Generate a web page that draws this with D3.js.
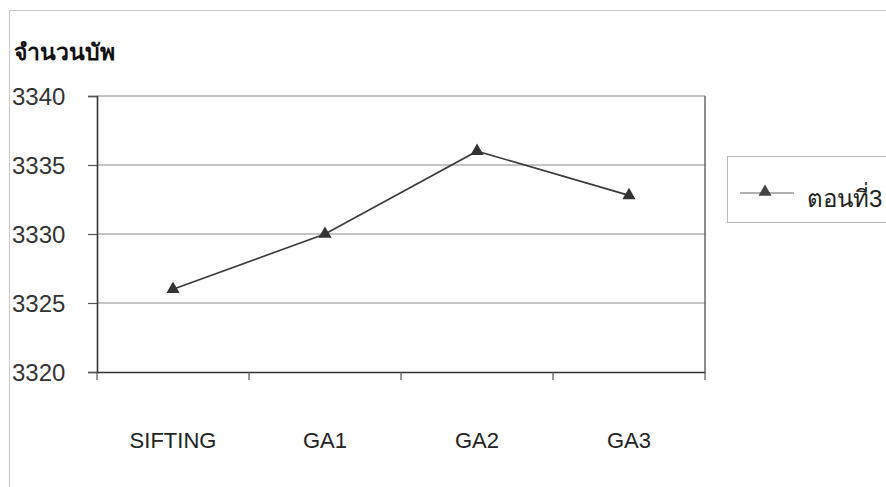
<!DOCTYPE html>
<html>
<head>
<meta charset="utf-8">
<script src="https://cdn.jsdelivr.net/npm/d3@7/dist/d3.min.js"></script>
<style>
  html, body { margin: 0; padding: 0; background: #fff; }
  svg { display: block; }
  text { font-family: "Liberation Sans", Arial, sans-serif; fill: #222; }
</style>
</head>
<body>
<svg id="chart" width="886" height="487"></svg>
<script>
const categories = ["SIFTING", "GA1", "GA2", "GA3"];
const values = [3326.0, 3330.0, 3336.0, 3332.8];
const yTicks = [3320, 3325, 3330, 3335, 3340];
const seriesName = "ตอนที่3";
const yTitle = "จำนวนบัพ";

const svg = d3.select("#chart");
const plot = { left: 97, right: 705, top: 96, bottom: 372 };

const x = d3.scaleBand().domain(categories).range([plot.left, plot.right]).padding(0);
const y = d3.scaleLinear().domain([3320, 3340]).range([plot.bottom, plot.top]);

// outer frame
svg.append("line").attr("x1", 10).attr("x2", 886).attr("y1", 10.5).attr("y2", 10.5)
  .attr("stroke", "#c8c8c8").attr("stroke-width", 1);
svg.append("line").attr("x1", 9.5).attr("x2", 9.5).attr("y1", 10).attr("y2", 487)
  .attr("stroke", "#c8c8c8").attr("stroke-width", 1);

// gridlines
svg.append("g").selectAll("line").data(yTicks.filter(d => d !== 3320)).join("line")
  .attr("x1", plot.left).attr("x2", plot.right)
  .attr("y1", d => y(d)).attr("y2", d => y(d))
  .attr("stroke", "#8a8a8a").attr("stroke-width", 1.2);

// right border
svg.append("line").attr("x1", plot.right).attr("x2", plot.right)
  .attr("y1", plot.top).attr("y2", plot.bottom)
  .attr("stroke", "#666").attr("stroke-width", 1.5);

// y axis
const yAxis = d3.axisLeft(y).tickValues(yTicks).tickSize(9).tickPadding(6).tickFormat(d3.format("d"));
const gy = svg.append("g").attr("transform", `translate(${plot.left},0)`).call(yAxis);
gy.select(".domain").attr("stroke", "#333").attr("stroke-width", 1.6);
gy.selectAll(".tick line").attr("stroke", "#555").attr("stroke-width", 1.2);
gy.selectAll(".tick text").attr("text-anchor", "start").attr("x", 12 - plot.left)
  .attr("dy", "0.36em")
  .style("font-size", "24px").style("fill", "#333");

// x axis
const xAxis = d3.axisBottom(x).tickSize(0).tickPadding(60);
const gx = svg.append("g").attr("transform", `translate(0,${plot.bottom})`).call(xAxis);
gx.select(".domain").attr("stroke", "#333").attr("stroke-width", 1.6);
gx.selectAll(".tick text").style("font-size", "22px").style("fill", "#222");
// x boundary ticks
const bounds = categories.map(c => x(c)).concat([x.range()[1]]);
gx.append("g").selectAll("line").data(bounds).join("line")
  .attr("x1", d => d).attr("x2", d => d).attr("y1", 0).attr("y2", 8)
  .attr("stroke", "#555").attr("stroke-width", 1.2);

// line series
const cx = d => x(d) + x.bandwidth() / 2;
const pts = categories.map((c, i) => [cx(c), y(values[i])]);
svg.append("path").datum(pts)
  .attr("d", d3.line())
  .attr("fill", "none").attr("stroke", "#3a3a3a").attr("stroke-width", 1.6);
const tri = d3.symbol().type(d3.symbolTriangle).size(75);
svg.append("g").selectAll("path").data(pts).join("path")
  .attr("d", tri).attr("transform", d => `translate(${d[0]},${d[1]})`)
  .attr("fill", "#333");

// y title
svg.append("text").attr("x", 14).attr("y", 60).text(yTitle)
  .style("font-size", "23px").style("font-weight", "bold").style("fill", "#111");

// legend
const lg = svg.append("g");
lg.append("rect").attr("x", 727.5).attr("y", 156.5).attr("width", 170).attr("height", 66)
  .attr("fill", "#fff").attr("stroke", "#bbb");
lg.append("line").attr("x1", 740).attr("x2", 794).attr("y1", 193).attr("y2", 193)
  .attr("stroke", "#666").attr("stroke-width", 1.2);
lg.append("path").attr("d", tri).attr("transform", "translate(765,192)").attr("fill", "#444");
lg.append("text").attr("x", 807).attr("y", 207).text(seriesName)
  .style("font-size", "24px").style("fill", "#222");
</script>
</body>
</html>
